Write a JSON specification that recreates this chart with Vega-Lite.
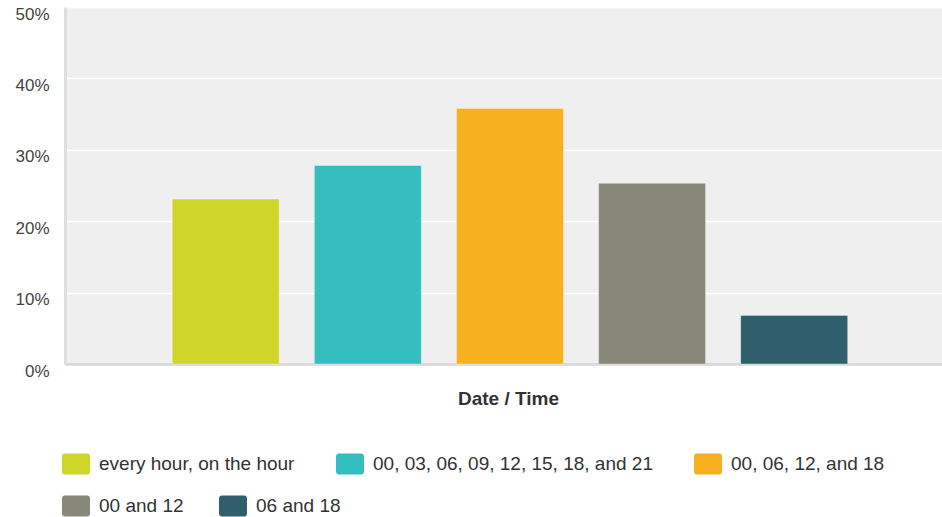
{
  "$schema": "https://vega.github.io/schema/vega-lite/v6.json",
  "autosize": {"type": "none"},
  "padding": {"left": 65, "top": 7, "right": 0, "bottom": 153},
  "width": 877,
  "height": 357,
  "background": "#ffffff",
  "config": {
    "view": {"fill": "#efefef", "stroke": null},
    "font": "Liberation Sans",
    "legend": {
      "title": null,
      "orient": "none",
      "direction": "horizontal",
      "gridAlign": "none",
      "padding": 0,
      "symbolType": "M-0.8,-0.75H0.8A0.2,0.2 0 0 1 1,-0.55V0.55A0.2,0.2 0 0 1 0.8,0.75H-0.8A0.2,0.2 0 0 1 -1,0.55V-0.55A0.2,0.2 0 0 1 -0.8,-0.75Z",
      "symbolSize": 784,
      "symbolStrokeWidth": 0,
      "symbolOpacity": 1,
      "labelFont": "Liberation Sans",
      "labelFontSize": 19,
      "labelColor": "#333333",
      "labelOffset": 9,
      "labelLimit": 0
    }
  },
  "data": {
    "values": [
      {"option": "every hour, on the hour", "share": 0.231, "row": 1},
      {"option": "00, 03, 06, 09, 12, 15, 18, and 21", "share": 0.278, "row": 1},
      {"option": "00, 06, 12, and 18", "share": 0.358, "row": 1},
      {"option": "00 and 12", "share": 0.253, "row": 2},
      {"option": "06 and 18", "share": 0.068, "row": 2}
    ]
  },
  "encoding": {
    "x": {
      "field": "option",
      "type": "nominal",
      "sort": null,
      "scale": {
        "domain": ["every hour, on the hour", "00, 03, 06, 09, 12, 15, 18, and 21", "00, 06, 12, and 18", "00 and 12", "06 and 18"],
        "paddingInner": 0.2475, "paddingOuter": 0.709, "align": 0.532
      },
      "axis": {
        "title": "Date / Time",
        "labels": false,
        "ticks": false,
        "grid": false,
        "domainColor": "#d6d6d6",
        "domainWidth": 2.5,
        "titleFont": "Liberation Sans",
        "titleFontSize": 19,
        "titleFontWeight": "bold",
        "titleColor": "#333333",
        "titleBaseline": "middle",
        "titleX": 443,
        "titleY": 34
      }
    },
    "y": {
      "field": "share",
      "type": "quantitative",
      "scale": {"domain": [0, 0.5], "nice": false},
      "axis": {
        "title": null,
        "values": [0, 0.1, 0.2, 0.3, 0.4, 0.5],
        "format": ".0%",
        "ticks": false,
        "domainColor": "#dedede",
        "domainWidth": 3,
        "gridColor": "#ffffff",
        "gridWidth": 1.5,
        "labelFont": "Liberation Sans",
        "labelFontSize": 17,
        "labelColor": "#444444",
        "labelPadding": 16,
        "labelOffset": 7
      }
    }
  },
  "layer": [
    {
      "transform": [{"filter": "datum.row == 1"}],
      "mark": {"type": "bar", "stroke": "#ffffff", "strokeOpacity": 0.35, "strokeWidth": 1},
      "encoding": {
        "color": {
          "field": "option",
          "type": "nominal",
          "sort": null,
          "scale": {
            "domain": ["every hour, on the hour", "00, 03, 06, 09, 12, 15, 18, and 21", "00, 06, 12, and 18"],
            "range": ["#cfd62a", "#34bec0", "#f6b020"]
          },
          "legend": {
            "legendX": -3,
            "legendY": 443,
            "columns": 3,
            "columnPadding": 40
          }
        }
      }
    },
    {
      "transform": [{"filter": "datum.row == 2"}],
      "mark": {"type": "bar", "stroke": "#ffffff", "strokeOpacity": 0.35, "strokeWidth": 1},
      "encoding": {
        "color": {
          "field": "option",
          "type": "nominal",
          "sort": null,
          "scale": {
            "domain": ["00 and 12", "06 and 18"],
            "range": ["#878877", "#2e5f6b"]
          },
          "legend": {
            "legendX": -3,
            "legendY": 485,
            "columns": 2,
            "columnPadding": 34
          }
        }
      }
    }
  ],
  "resolve": {"scale": {"color": "independent"}, "legend": {"color": "independent"}}
}
